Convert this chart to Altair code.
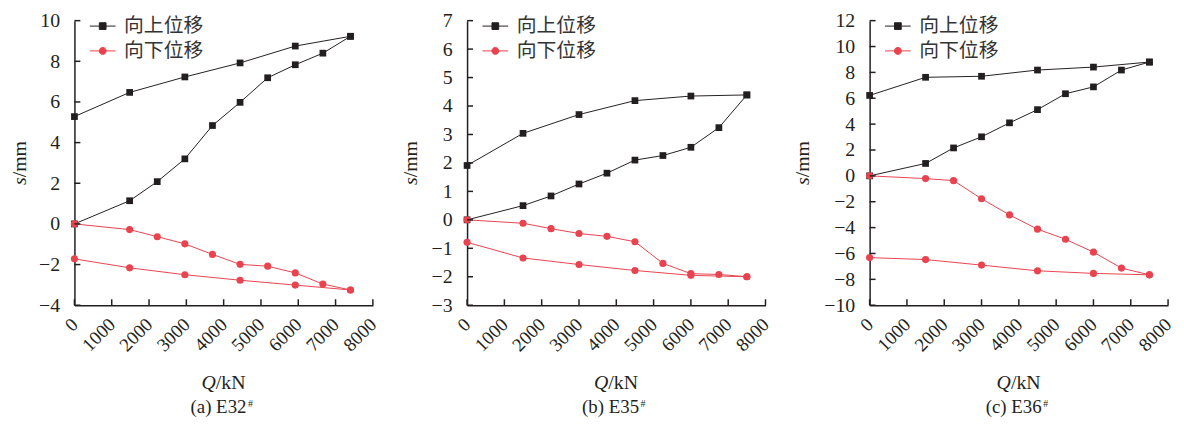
import altair as alt
import pandas as pd

# ---------------- data ----------------
series_names = ["向上位移", "向下位移"]
series_keys = ["up", "down"]

Q_a_load = [0, 1480, 2220, 2960, 3700, 4440, 5180, 5920, 6660, 7400]
Q_a_unload = [7400, 5920, 4440, 2960, 1480, 0]
Q_bc_load = [0, 1500, 2250, 3000, 3750, 4500, 5250, 6000, 6750, 7500]
Q_bc_unload = [7500, 6000, 4500, 3000, 1500, 0]

a_up_load = [0, 1.14, 2.08, 3.2, 4.84, 5.98, 7.19, 7.83, 8.4, 9.23]
a_up_unload = [9.23, 8.75, 7.92, 7.23, 6.47, 5.28]
a_down_load = [0, -0.28, -0.63, -0.98, -1.5, -1.99, -2.08, -2.41, -2.96, -3.25]
a_down_unload = [-3.25, -3.01, -2.77, -2.5, -2.16, -1.72]

b_up_load = [0, 0.5, 0.84, 1.26, 1.64, 2.1, 2.26, 2.55, 3.24, 4.39]
b_up_unload = [4.39, 4.35, 4.19, 3.7, 3.04, 1.91]
b_down_load = [0, -0.12, -0.31, -0.48, -0.58, -0.77, -1.53, -1.89, -1.92, -2.0]
b_down_unload = [-2.0, -1.95, -1.78, -1.57, -1.34, -0.79]

c_up_load = [0, 0.96, 2.16, 3.02, 4.1, 5.12, 6.35, 6.88, 8.18, 8.8]
c_up_unload = [8.8, 8.41, 8.18, 7.7, 7.62, 6.22]
c_down_load = [0, -0.21, -0.37, -1.77, -3.02, -4.12, -4.9, -5.9, -7.13, -7.65]
c_down_unload = [-7.65, -7.54, -7.34, -6.9, -6.47, -6.32]

x_ticks = [0, 1000, 2000, 3000, 4000, 5000, 6000, 7000, 8000]
y_ticks_a = [-4, -2, 0, 2, 4, 6, 8, 10]
y_ticks_b = [-3, -2, -1, 0, 1, 2, 3, 4, 5, 6, 7]
y_ticks_c = [-10, -8, -6, -4, -2, 0, 2, 4, 6, 8, 10, 12]

panel_labels = ["(a) E32", "(b) E35", "(c) E36"]
panel_sup = "#"
x_title = ["Q", "/kN"]
y_title = ["s", "/mm"]

# ---------------- style ----------------
BLACK = "#231f20"
RED = "#e8434e"
SERIF = "Liberation Serif"
CJK = "Noto Sans CJK SC"
W, H = 301, 287
TICK = 6

SQ_PATH = "M-1,0H1M-0.26,-0.26H0.26V0.26H-0.26Z"
CI_PATH = "M-1,0H1M0.27,0A0.27,0.27,0,1,1,-0.27,0A0.27,0.27,0,1,1,0.27,0Z"


def make_df(q_load, q_unload, up_l, up_u, dn_l, dn_u):
    rows = []
    for key, name, sl, su in ((series_keys[0], series_names[0], up_l, up_u),
                              (series_keys[1], series_names[1], dn_l, dn_u)):
        for i, (q, s) in enumerate(zip(q_load + q_unload, sl + su)):
            rows.append({"Q": q, "s": s, "series": name, "key": key, "idx": i})
    return pd.DataFrame(rows)


one = pd.DataFrame({"k": [0]})


def txt(s, x, y, **kw):
    return alt.Chart(one).mark_text(text=s, font=SERIF, color=BLACK, **kw).encode(
        x=alt.value(x), y=alt.value(y))


def panel(df, ydom, yticks, ytx, label):
    xs = alt.Scale(domain=[0, 8000], nice=False, zero=False)
    ys = alt.Scale(domain=ydom, nice=False, zero=False)
    base = alt.Chart(df)

    leg = alt.Legend(title=None, orient="none", legendX=15, legendY=-8,
                     symbolSize=676, symbolStrokeWidth=1, symbolOpacity=1,
                     labelFont=CJK, labelFontSize=20, labelColor="#333333",
                     labelOffset=8, rowPadding=1, padding=0)
    # first layer: carries the axes and the legend; its own marks have zero size
    guide_layer = base.mark_point(filled=True, strokeWidth=1, size=0).encode(
        x=alt.X("Q:Q", scale=xs, axis=alt.Axis(
            orient="bottom", values=x_ticks, title=None, ticks=False,
            labelAngle=-45, labelAlign="right", labelBaseline="middle",
            labelPadding=16, labelOverlap=False, labelFlush=False,
            labelFontSize=19, grid=False, format="d")),
        y=alt.Y("s:Q", scale=ys, axis=alt.Axis(
            orient="left", values=yticks, title=None, ticks=False,
            labelPadding=15, labelOverlap=False, labelFlush=False,
            grid=False, format="d")),
        fill=alt.Fill("series:N", scale=alt.Scale(domain=series_names, range=[BLACK, RED]), legend=leg),
        stroke=alt.Stroke("series:N", scale=alt.Scale(domain=series_names, range=[BLACK, RED]), legend=leg),
        shape=alt.Shape("series:N", scale=alt.Scale(domain=series_names, range=[SQ_PATH, CI_PATH]), legend=leg),
    )

    def series_line(key, col):
        return base.transform_filter(alt.datum.key == key).mark_line(
            strokeWidth=1, color=col).encode(
            x=alt.X("Q:Q", scale=xs, axis=None),
            y=alt.Y("s:Q", scale=ys, axis=None),
            order="idx:Q")

    squares = base.transform_filter(alt.datum.key == "up").mark_square(
        size=46, color=BLACK, opacity=1).encode(
        x=alt.X("Q:Q", scale=xs, axis=None),
        y=alt.Y("s:Q", scale=ys, axis=None),
    )

    circles = base.transform_filter(alt.datum.key == "down").mark_circle(
        size=52, color=RED, opacity=1).encode(
        x=alt.X("Q:Q", scale=xs, axis=None),
        y=alt.Y("s:Q", scale=ys, axis=None),
    )

    # inward tick marks at the tick values
    xtick = alt.Chart(pd.DataFrame({"Q": x_ticks})).mark_rule(
        color=BLACK, strokeWidth=1.5).encode(
        x=alt.X("Q:Q", scale=xs, axis=None), y=alt.value(H), y2=alt.value(H - TICK))
    ytick = alt.Chart(pd.DataFrame({"s": yticks})).mark_rule(
        color=BLACK, strokeWidth=1.5).encode(
        y=alt.Y("s:Q", scale=ys, axis=None), x=alt.value(0), x2=alt.value(TICK))

    texts = [
        txt(y_title[0], ytx, H / 2 + 14.5, angle=270, align="right", baseline="alphabetic",
            fontSize=20, fontStyle="italic"),
        txt(y_title[1], ytx, H / 2 + 14.5, angle=270, align="left", baseline="alphabetic",
            fontSize=20),
        txt(x_title[0], W / 2 - 8, 372, align="right", baseline="alphabetic",
            fontSize=20, fontStyle="italic"),
        txt(x_title[1], W / 2 - 8, 372, align="left", baseline="alphabetic", fontSize=20),
        txt(label, W / 2 + 23, 396, align="right", baseline="alphabetic", fontSize=19),
        txt(panel_sup, W / 2 + 24.5, 390, align="left", baseline="alphabetic", fontSize=10),
    ]

    return alt.layer(guide_layer, series_line("up", BLACK), series_line("down", RED),
                     squares, circles, xtick, ytick, *texts).resolve_axis(
        x="independent", y="independent").properties(width=W, height=H)


df_a = make_df(Q_a_load, Q_a_unload, a_up_load, a_up_unload, a_down_load, a_down_unload)
df_b = make_df(Q_bc_load, Q_bc_unload, b_up_load, b_up_unload, b_down_load, b_down_unload)
df_c = make_df(Q_bc_load, Q_bc_unload, c_up_load, c_up_unload, c_down_load, c_down_unload)

pa = panel(df_a, [-4, 10], y_ticks_a, -49, panel_labels[0])
pb = panel(df_b, [-3, 7], y_ticks_b, -51, panel_labels[1])
pc = panel(df_c, [-10, 12], y_ticks_c, -61, panel_labels[2])

chart = alt.hconcat(pa, pb, pc, spacing=20).resolve_scale(
    x="independent", y="independent", fill="independent",
    stroke="independent", shape="independent").resolve_legend(
    fill="independent", stroke="independent", shape="independent").properties(
    padding={"left": 2, "top": 1, "right": 0, "bottom": 0}).configure_view(
    stroke=None).configure_axis(
    labelFont=SERIF, labelFontSize=20, labelColor=BLACK, domainColor=BLACK,
    domainWidth=1.5, grid=False)

chart.save("out.html", embed_options={"renderer": "svg", "actions": False})
